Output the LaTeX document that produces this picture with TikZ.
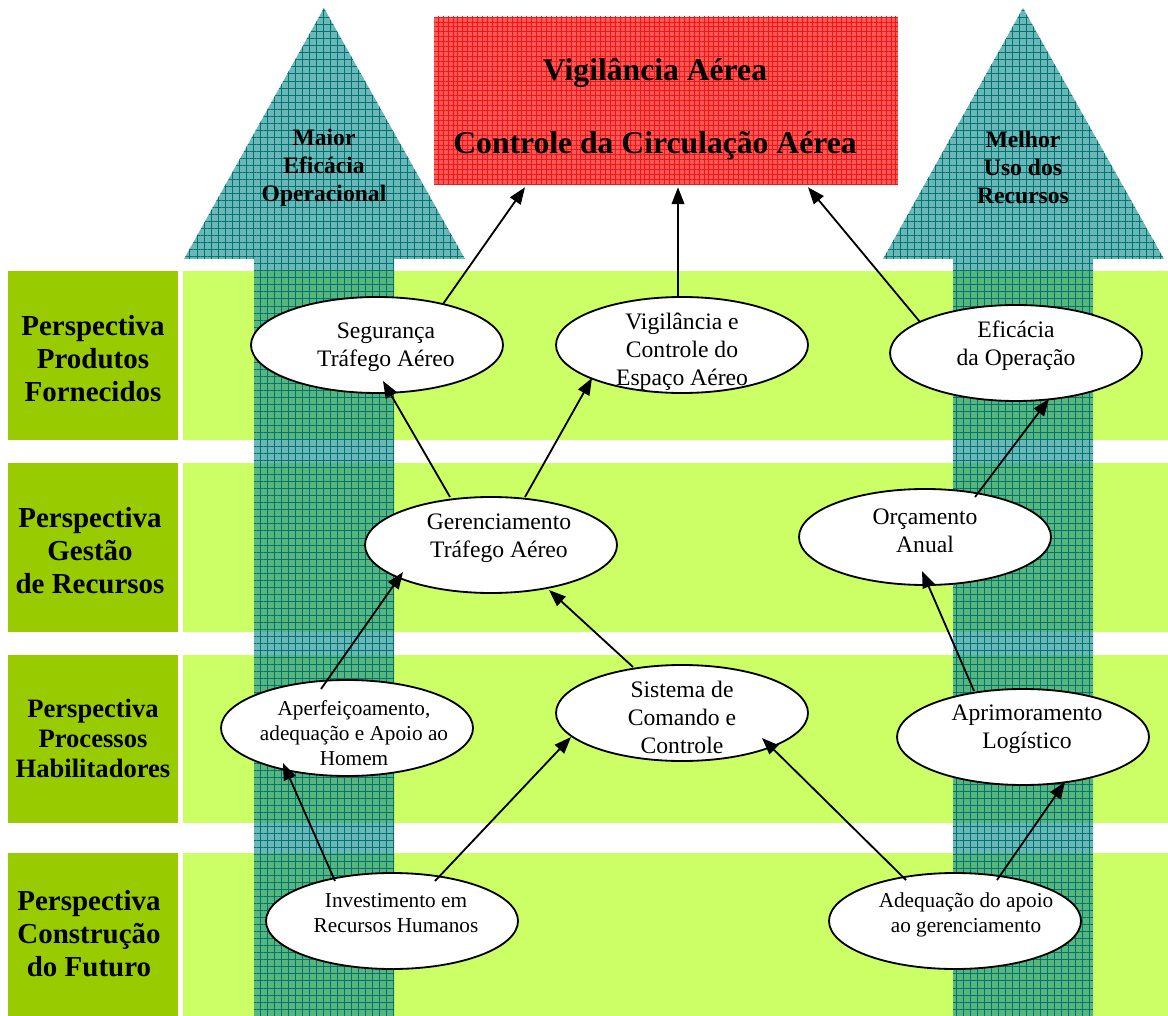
\documentclass[tikz,border=0pt]{standalone}
\usepackage{fontspec}
\setmainfont{Liberation Serif}
\usetikzlibrary{shapes.geometric,arrows.meta,calc,patterns.meta}
\definecolor{lblgreen}{HTML}{99CC00}
\definecolor{panelgreen}{HTML}{CCFF66}
\definecolor{tealc}{HTML}{118A8A}
\definecolor{tealgrid}{HTML}{007373}
\definecolor{redfill}{HTML}{F85A5A}
\definecolor{redgrid}{HTML}{FF1010}
\newcommand\pxu{0.025cm}
\begin{document}
\begin{tikzpicture}[x=0.025cm,y=-0.025cm,
  etxtbase/.style={shape=rectangle, draw=none, fill=none, inner sep=0pt,
    minimum width=0pt, minimum height=0pt, align=center, text=black, path picture={}},
  etxt/.style={etxtbase, font=\fontsize{16.8pt}{19.9pt}\selectfont},
  etxtsm/.style={etxtbase, font=\fontsize{15.1pt}{17.6pt}\selectfont},
  ellbase/.style={ellipse, draw=black, line width=1.3pt, fill=white,
    minimum width=252*\pxu, minimum height=96*\pxu, inner sep=0pt},
  ell/.style 2 args={ellbase, path picture={\node[etxt] at ($(path picture bounding box.center)+(#1)$) {#2};}},
  ellsm/.style 2 args={ellbase, path picture={\node[etxtsm] at ($(path picture bounding box.center)+(#1)$) {#2};}},
  redbox/.style={rectangle, minimum width=464*\pxu, minimum height=168*\pxu, inner sep=0pt,
    preaction={fill=redfill}, pattern={Hatch[angle=0,distance=3.5pt,line width=0.4pt]}, pattern color=redgrid},
  bigarrow/.style={fill=tealc, fill opacity=0.62,
    postaction={pattern={Hatch[angle=0,distance=5pt,line width=0.5pt]}, pattern color=tealgrid, fill opacity=0.35}},
  lbl/.style={align=center, inner sep=0pt, font=\bfseries\fontsize{20.6pt}{23.5pt}\selectfont},
  lblsm/.style={align=center, inner sep=0pt, font=\bfseries\fontsize{18.9pt}{21.3pt}\selectfont},
  albl/.style={align=center, inner sep=0pt, font=\bfseries\fontsize{16.8pt}{19.9pt}\selectfont},
  conn/.style={draw=black, line width=1.3pt, -{Triangle[length=12pt,width=9pt]}}
]
\useasboundingbox (0,0) rectangle (1168,1016);
\fill[white] (0,0) rectangle (1168,1016);
% rows
\foreach \a/\b in {271/440,463/632,655/823,853/1016}{
  \fill[lblgreen] (8,\a) rectangle (178,\b);
  \fill[panelgreen] (183,\a) rectangle (1168,\b);
}
% big arrows
\path[bigarrow] (324,8) -- (465,259) -- (394,259) -- (394,1016) -- (254,1016) -- (254,259) -- (184,259) -- cycle;
\path[bigarrow] (1023,8) -- (1164,259) -- (1093,259) -- (1093,1016) -- (953,1016) -- (953,259) -- (883,259) -- cycle;
\node[albl] (a1) at (324,168) {Maior\\Eficácia\\Operacional};
\node[albl] (a2) at (1023,167) {Melhor\\Uso dos\\Recursos};
% top box
\node[redbox, path picture={\node[etxtbase, font=\bfseries\fontsize{22.5pt}{52pt}\selectfont] at ($(path picture bounding box.center)+(-11,8)$) {Vigilância Aérea\\Controle da Circulação Aérea};}] (top) at (666,101) {};
% row labels
\node[lbl] (l1) at (93,359) {Perspectiva\\Produtos\\Fornecidos};
\node[lbl] (l2) at (90,551) {Perspectiva\\Gestão\\de Recursos};
\node[lblsm] (l3) at (93,738) {Perspectiva\\Processos\\Habilitadores};
\node[lbl] (l4) at (89,934) {Perspectiva\\Construção\\do Futuro};
% ellipses
\node[ell={9,2}{Segurança\\Tráfego Aéreo}] (seg) at (377,345) {};
\node[ell={0,7}{Vigilância e\\Controle do\\Espaço Aéreo}] (vig) at (682,345) {};
\node[ell={0,-7}{Eficácia\\da Operação}] (efi) at (1016,353) {};
\node[ell={8,-7}{Gerenciamento\\Tráfego Aéreo}] (ger) at (491,545) {};
\node[ell={0,-6}{Orçamento\\Anual}] (orc) at (925,537) {};
\node[ellsm={7,5}{Aperfeiçoamento,\\adequação e Apoio ao\\Homem}] (aper) at (347,728) {};
\node[ell={0,4}{Sistema de\\Comando e\\Controle}] (sis) at (682,713) {};
\node[ell={4,-8}{Aprimoramento\\Logístico}] (apr) at (1023,737) {};
\node[ellsm={4,-8}{Investimento em\\Recursos Humanos}] (inv) at (392,921) {};
\node[ellsm={11,-6}{Adequação do apoio\\ao gerenciamento}] (ade) at (955,921) {};
% connectors
\draw[conn] ($(seg)+(66,-41)$) -- ($(top.south)+(-141,2)$);
\draw[conn] ($(vig)+(-4,-48)$) -- ($(top.south)+(12,2)$);
\draw[conn] ($(efi)+(-96,-31)$) -- ($(top.south)+(142,2)$);
\draw[conn] ($(ger)+(-41,-48)$) -- ($(seg)+(6,36)$);
\draw[conn] ($(ger)+(34,-48)$) -- ($(vig)+(-90,33)$);
\draw[conn] ($(orc)+(50,-40)$) -- ($(efi)+(33,46)$);
\draw[conn] ($(aper)+(-26,-39)$) -- ($(ger)+(-88,27)$);
\draw[conn] ($(sis)+(-49,-46)$) -- ($(ger)+(58,45)$);
\draw[conn] ($(apr)+(-49,-46)$) -- ($(orc)+(-3,34)$);
\draw[conn] ($(inv)+(-57,-40)$) -- ($(aper)+(-64,35)$);
\draw[conn] ($(inv)+(43,-40)$) -- ($(sis)+(-111,24)$);
\draw[conn] ($(ade)+(-49,-41)$) -- ($(sis)+(80,25)$);
\draw[conn] ($(ade)+(42,-41)$) -- ($(apr)+(42,45)$);
\end{tikzpicture}
\end{document}
